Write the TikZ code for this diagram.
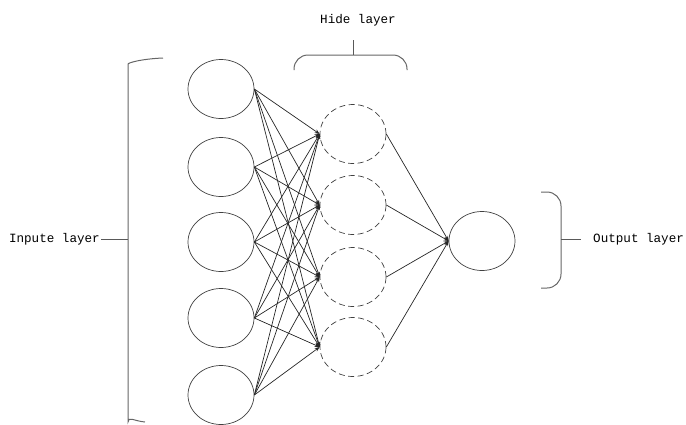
\documentclass[tikz,border=0pt]{standalone}
\usepackage{fontspec}
\setmonofont{Liberation Mono}
\usetikzlibrary{arrows.meta,shapes.geometric}

\begin{document}
\begin{tikzpicture}[x=1pt, y=-1pt, >={Stealth[length=5pt,width=4pt]}, shorten >=0pt,
    neuron/.style={ellipse, draw=black!75, line width=0.7pt, minimum width=66pt, minimum height=59pt, inner sep=0pt},
    hidden/.style={neuron, dash pattern=on 6pt off 3.5pt},
    link/.style={->, draw=black!85, line width=0.7pt},
    brace/.style={draw=black!60, line width=1pt, rounded corners=14pt},
    lbl/.style={font=\ttfamily\fontsize{12.6}{14}\selectfont, inner sep=1pt}]
    \useasboundingbox (0,0) rectangle (686,424);

    % Nodes {i1..i5, h1..h4, o1}
    \node [neuron] (i1) at (221,89)  {};
    \node [neuron] (i2) at (221,167) {};
    \node [neuron] (i3) at (221,242) {};
    \node [neuron] (i4) at (221,318) {};
    \node [neuron] (i5) at (221,395) {};
    \node [hidden] (h1) at (353,134) {};
    \node [hidden] (h2) at (353,205) {};
    \node [hidden] (h3) at (353,277) {};
    \node [hidden] (h4) at (353,347) {};
    \node [neuron] (o1) at (482,241) {};

    % Labels
    \node [lbl, anchor=east] (inl)  at (101,239) {Inpute layer};
    \node [lbl]              (hidl) at (358,20)  {Hide layer};
    \node [lbl, anchor=west] (outl) at (592,239) {Output layer};

    % Braces
    \path [brace] (163,58) .. controls (140,59) and (128,63) .. (128,78)
        -- (128,408) .. controls (128,416) and (134,421) .. (145,422);
    \path [brace] (294,70) -- (294,55) -- (407,55) -- (407,70);
    \path [brace] (541,192) -- (561,192) -- (561,288) -- (541,288);
    \coordinate (lb) at (128,239);
    \coordinate (hb) at (353,55);
    \coordinate (ht) at (353,40);
    \coordinate (ob) at (561,239);
    \coordinate (ot) at (581,239);
    \draw [black!65, line width=0.9pt] (inl.east) -- (lb);
    \draw [black!65, line width=0.9pt] (ht) -- (hb);
    \draw [black!65, line width=0.9pt] (ob) -- (ot);

    % Paths
    \path (i1.east) edge [link] (h1.west);
    \path (i1.east) edge [link] (h2.west);
    \path (i1.east) edge [link] (h3.west);
    \path (i1.east) edge [link] (h4.west);
    \path (i2.east) edge [link] (h1.west);
    \path (i2.east) edge [link] (h2.west);
    \path (i2.east) edge [link] (h3.west);
    \path (i2.east) edge [link] (h4.west);
    \path (i3.east) edge [link] (h1.west);
    \path (i3.east) edge [link] (h2.west);
    \path (i3.east) edge [link] (h3.west);
    \path (i3.east) edge [link] (h4.west);
    \path (i4.east) edge [link] (h1.west);
    \path (i4.east) edge [link] (h2.west);
    \path (i4.east) edge [link] (h3.west);
    \path (i4.east) edge [link] (h4.west);
    \path (i5.east) edge [link] (h1.west);
    \path (i5.east) edge [link] (h2.west);
    \path (i5.east) edge [link] (h3.west);
    \path (i5.east) edge [link] (h4.west);
    \path (h1.east) edge [link] (o1.west);
    \path (h2.east) edge [link] (o1.west);
    \path (h3.east) edge [link] (o1.west);
    \path (h4.east) edge [link] (o1.west);

\end{tikzpicture}
\end{document}
